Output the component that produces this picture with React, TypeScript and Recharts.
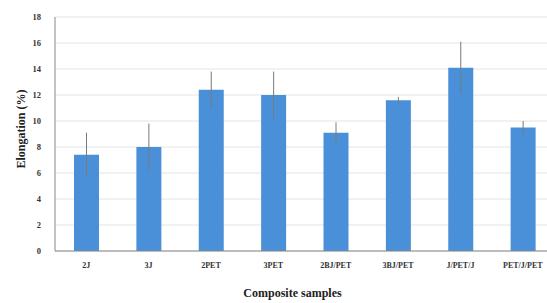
import { BarChart, Bar, XAxis, YAxis, CartesianGrid, ErrorBar, Label } from "recharts";

const samples = ["2J", "3J", "2PET", "3PET", "2BJ/PET", "3BJ/PET", "J/PET/J", "PET/J/PET"];
const elongation = [7.4, 8.0, 12.4, 12.0, 9.1, 11.6, 14.1, 9.5];
const errors = [1.7, 1.8, 1.4, 1.8, 0.8, 0.25, 2.0, 0.5];
const yTicks = [0, 2, 4, 6, 8, 10, 12, 14, 16, 18];

const data = samples.map((s, i) => ({ sample: s, value: elongation[i], err: errors[i] }));

const FONT = '"Liberation Serif", "Times New Roman", serif';

export default function App() {
  return (
    <div style={{ position: "absolute", left: 0, top: 0, width: 547, height: 303, overflow: "hidden", background: "#fff" }}>
      <BarChart width={556} height={303} data={data} margin={{ top: 17, right: 2, bottom: 0, left: 0 }}>
        <CartesianGrid vertical={false} stroke="#e4e4e4" />
        <XAxis
          dataKey="sample"
          height={52}
          tickLine={false}
          axisLine={{ stroke: "#888" }}
          tick={{ fontFamily: FONT, fontSize: 8, fontWeight: "bold", fill: "#333" }}
          tickMargin={5}
          interval={0}
        >
          <Label
            value="Composite samples"
            position="insideBottom"
            offset={6}
            dx={-12}
            style={{ fontFamily: FONT, fontSize: 12, fontWeight: "bold", fill: "#222" }}
          />
        </XAxis>
        <YAxis
          width={55}
          domain={[0, 18]}
          ticks={yTicks}
          tickLine={false}
          axisLine={{ stroke: "#888" }}
          tick={{ fontFamily: FONT, fontSize: 8.5, fontWeight: "bold", fill: "#333" }}
          tickMargin={8}
        >
          <Label
            content={({ viewBox }: any) => {
              const cy = viewBox.y + viewBox.height / 2 - 5;
              return (
                <text
                  x={21}
                  y={cy}
                  transform={`rotate(-90, 21, ${cy})`}
                  textAnchor="middle"
                  dominantBaseline="central"
                  style={{ fontFamily: FONT, fontSize: 12, fontWeight: "bold", fill: "#222" }}
                >
                  Elongation (%)
                </text>
              );
            }}
          />
        </YAxis>
        <Bar dataKey="value" fill="#4a90d9" barSize={25} isAnimationActive={false}>
          <ErrorBar dataKey="err" width={0} stroke="#7a7a7a" strokeWidth={1} />
        </Bar>
      </BarChart>
    </div>
  );
}
